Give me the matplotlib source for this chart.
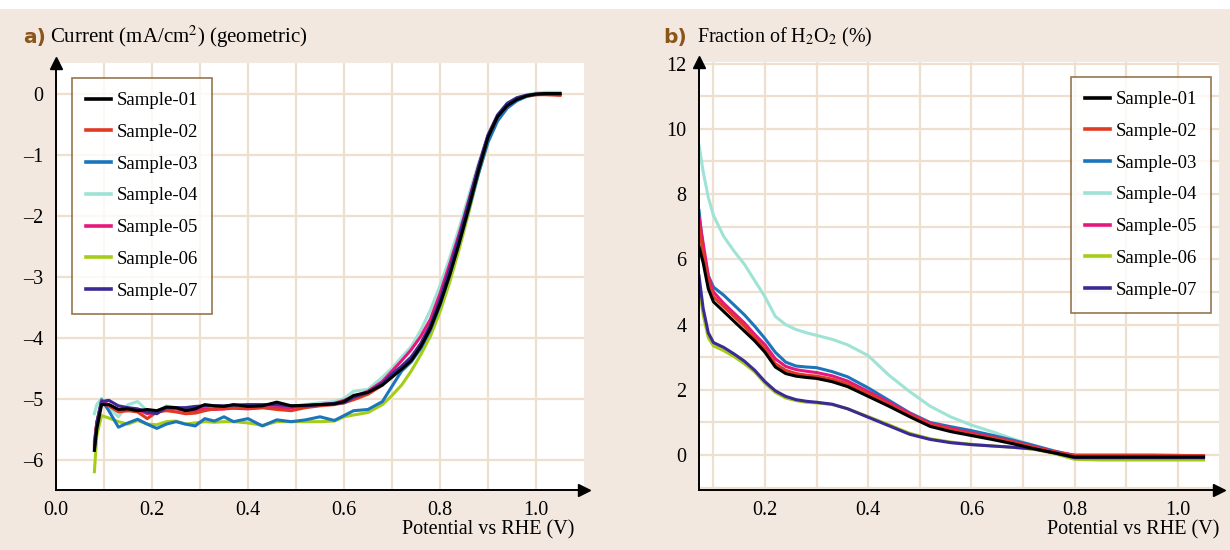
import matplotlib
matplotlib.use("Agg")
import matplotlib.pyplot as plt
from matplotlib.patches import Rectangle

plt.rcParams["font.family"] = ["Liberation Serif", "DejaVu Serif"]
plt.rcParams["mathtext.fontset"] = "stix"

samples = ["Sample-01", "Sample-02", "Sample-03", "Sample-04", "Sample-05", "Sample-06", "Sample-07"]
colors = ["#000000", "#E03A24", "#1B75BB", "#9FE3D6", "#E5197D", "#A5CD18", "#3B2A94"]

# panel a: current density vs potential
xa = [0.08, 0.085, 0.095, 0.11, 0.13, 0.15, 0.17, 0.19, 0.21, 0.23, 0.25, 0.27, 0.29, 0.31, 0.33, 0.35,
      0.37, 0.40, 0.43, 0.46, 0.49, 0.52, 0.55, 0.58, 0.60, 0.62, 0.65, 0.68, 0.70, 0.72, 0.74, 0.76,
      0.78, 0.80, 0.82, 0.84, 0.86, 0.88, 0.90, 0.92, 0.94, 0.96, 0.98, 1.00, 1.02, 1.05]
cur01 = [-5.85, -5.5, -5.1, -5.1, -5.18, -5.17, -5.2, -5.18, -5.2, -5.14, -5.15, -5.2, -5.17, -5.1, -5.12, -5.13,
         -5.1, -5.13, -5.12, -5.06, -5.12, -5.11, -5.1, -5.09, -5.05, -4.95, -4.9, -4.78, -4.65, -4.52, -4.38, -4.15,
         -3.85, -3.45, -2.98, -2.45, -1.87, -1.27, -0.72, -0.38, -0.2, -0.1, -0.04, -0.01, 0.0, 0.0]
cur02 = [-5.7, -5.4, -5.08, -5.12, -5.22, -5.2, -5.22, -5.33, -5.22, -5.2, -5.22, -5.25, -5.24, -5.2, -5.17, -5.17,
         -5.15, -5.16, -5.15, -5.18, -5.2, -5.15, -5.12, -5.1, -5.07, -5.02, -4.93, -4.78, -4.62, -4.48, -4.33, -4.1,
         -3.8, -3.38, -2.9, -2.38, -1.8, -1.22, -0.7, -0.37, -0.18, -0.08, -0.04, -0.02, -0.02, -0.03]
cur03 = [-5.85, -5.4, -5.02, -5.2, -5.47, -5.4, -5.34, -5.42, -5.49, -5.42, -5.38, -5.42, -5.45, -5.33, -5.37, -5.3,
         -5.38, -5.33, -5.45, -5.35, -5.38, -5.35, -5.3, -5.36, -5.28, -5.2, -5.18, -5.05, -4.8, -4.55, -4.4, -4.18,
         -3.88, -3.47, -2.98, -2.45, -1.9, -1.32, -0.8, -0.45, -0.24, -0.12, -0.05, -0.02, -0.01, -0.01]
cur04 = [-5.25, -5.1, -5.0, -5.15, -5.3, -5.1, -5.05, -5.2, -5.22, -5.12, -5.15, -5.18, -5.15, -5.12, -5.15, -5.13,
         -5.12, -5.1, -5.12, -5.12, -5.15, -5.1, -5.07, -5.05, -5.0, -4.88, -4.85, -4.65, -4.5, -4.32, -4.15, -3.88,
         -3.55, -3.15, -2.7, -2.2, -1.67, -1.15, -0.68, -0.36, -0.17, -0.07, -0.02, 0.01, 0.02, 0.02]
cur05 = [-5.75, -5.4, -5.05, -5.1, -5.18, -5.2, -5.18, -5.25, -5.22, -5.18, -5.17, -5.2, -5.2, -5.17, -5.18, -5.17,
         -5.16, -5.17, -5.15, -5.15, -5.15, -5.12, -5.1, -5.08, -5.03, -4.97, -4.88, -4.72, -4.55, -4.38, -4.2, -3.98,
         -3.7, -3.28, -2.8, -2.3, -1.75, -1.2, -0.7, -0.37, -0.18, -0.08, -0.03, -0.01, -0.01, -0.02]
cur06 = [-6.2, -5.6, -5.28, -5.32, -5.38, -5.42, -5.36, -5.42, -5.43, -5.38, -5.37, -5.42, -5.4, -5.38, -5.39, -5.38,
         -5.38, -5.4, -5.44, -5.38, -5.38, -5.38, -5.38, -5.37, -5.3, -5.27, -5.23, -5.1, -4.95, -4.78, -4.55, -4.28,
         -3.98, -3.58, -3.1, -2.55, -1.95, -1.32, -0.77, -0.42, -0.22, -0.11, -0.04, -0.01, 0.0, 0.0]
cur07 = [-5.8, -5.4, -5.05, -5.03, -5.12, -5.15, -5.17, -5.22, -5.25, -5.15, -5.15, -5.15, -5.13, -5.12, -5.12, -5.12,
         -5.11, -5.1, -5.1, -5.1, -5.12, -5.12, -5.1, -5.08, -5.07, -4.98, -4.9, -4.75, -4.6, -4.47, -4.32, -4.1,
         -3.8, -3.38, -2.88, -2.35, -1.78, -1.2, -0.68, -0.35, -0.16, -0.07, -0.03, -0.01, -0.01, -0.01]

# panel b: H2O2 fraction vs potential
xb = [0.072, 0.08, 0.09, 0.10, 0.12, 0.14, 0.16, 0.18, 0.20, 0.22, 0.24, 0.26, 0.28, 0.30, 0.33, 0.36,
      0.40, 0.44, 0.48, 0.52, 0.56, 0.60, 0.64, 0.68, 0.72, 0.76, 0.80, 0.85, 0.90, 0.95, 1.00, 1.05]
h01 = [6.4, 5.9, 5.1, 4.7, 4.4, 4.1, 3.8, 3.5, 3.15, 2.7, 2.5, 2.42, 2.38, 2.35, 2.25, 2.1,
       1.8, 1.5, 1.18, 0.88, 0.72, 0.6, 0.48, 0.35, 0.2, 0.07, -0.06, -0.06, -0.06, -0.06, -0.06, -0.06]
h02 = [7.0, 6.2, 5.3, 4.85, 4.55, 4.25, 3.95, 3.6, 3.25, 2.8, 2.6, 2.5, 2.45, 2.42, 2.33, 2.18,
       1.88, 1.56, 1.23, 0.93, 0.78, 0.65, 0.53, 0.4, 0.24, 0.1, -0.01, -0.01, -0.01, -0.01, -0.01, -0.02]
h03 = [7.5, 6.3, 5.5, 5.15, 4.9, 4.6, 4.3, 3.95, 3.57, 3.15, 2.85, 2.73, 2.7, 2.68, 2.56, 2.4,
       2.06, 1.68, 1.3, 1.0, 0.87, 0.75, 0.61, 0.46, 0.3, 0.13, -0.02, -0.02, -0.02, -0.02, -0.02, -0.02]
h04 = [9.5, 8.7, 7.9, 7.35, 6.7, 6.25, 5.85, 5.35, 4.85, 4.25, 4.0, 3.85, 3.75, 3.67, 3.55, 3.38,
       3.05, 2.45, 1.95, 1.5, 1.17, 0.92, 0.72, 0.5, 0.3, 0.1, -0.03, -0.03, -0.03, -0.03, -0.03, -0.03]
h05 = [7.3, 6.5, 5.5, 5.0, 4.65, 4.35, 4.05, 3.7, 3.38, 2.95, 2.72, 2.62, 2.57, 2.53, 2.43, 2.27,
       1.95, 1.62, 1.28, 0.97, 0.82, 0.68, 0.55, 0.42, 0.26, 0.11, 0.0, 0.0, 0.0, 0.0, -0.01, -0.03]
h06 = [5.2, 4.3, 3.6, 3.35, 3.2, 3.02, 2.8, 2.55, 2.2, 1.92, 1.75, 1.67, 1.62, 1.6, 1.55, 1.42,
       1.18, 0.93, 0.67, 0.5, 0.4, 0.33, 0.28, 0.24, 0.18, 0.05, -0.13, -0.15, -0.15, -0.15, -0.15, -0.15]
h07 = [5.5, 4.5, 3.75, 3.45, 3.3, 3.1, 2.88, 2.6, 2.25, 1.97, 1.8, 1.7, 1.65, 1.62, 1.56, 1.42,
       1.16, 0.9, 0.64, 0.48, 0.38, 0.32, 0.28, 0.24, 0.19, 0.07, -0.08, -0.08, -0.08, -0.08, -0.08, -0.08]

currents = [cur01, cur02, cur03, cur04, cur05, cur06, cur07]
fractions = [h01, h02, h03, h04, h05, h06, h07]

beige = "#F2E8DF"
gridc = "#EEDFCE"
brown = "#7A5424"

fig = plt.figure(figsize=(12.3, 5.5), dpi=100, facecolor="white")
fig.patches.append(Rectangle((0, 0), 1, 1 - 9 / 550, transform=fig.transFigure,
                             facecolor=beige, edgecolor="none", zorder=-10))

ax1 = fig.add_axes([56 / 1230, 60 / 550, 528 / 1230, 427 / 550])
ax2 = fig.add_axes([699 / 1230, 60 / 550, 520 / 1230, 428 / 550])

# draw order so that Sample-01 sits on top
order = [3, 5, 2, 4, 1, 6, 0]
for k, i in enumerate(order):
    ax1.plot(xa, currents[i], color=colors[i], lw=2.2, zorder=3 + k * 0.1)
    ax2.plot(xb, fractions[i], color=colors[i], lw=2.2, zorder=3 + k * 0.1)

ax1.set_xlim(0, 1.1)
ax1.set_ylim(-6.5, 0.5)
ax1.set_xticks([0.0, 0.2, 0.4, 0.6, 0.8, 1.0])
ax1.set_xticklabels(["0.0", "0.2", "0.4", "0.6", "0.8", "1.0"])
ax1.set_yticks([0, -1, -2, -3, -4, -5, -6])
ax1.set_yticklabels(["0", "\u20131", "\u20132", "\u20133", "\u20134", "\u20135", "\u20136"])
ax1.set_xticks([0.1, 0.3, 0.5, 0.7, 0.9], minor=True)

ax2.set_xlim(0.072, 1.08)
ax2.set_ylim(-1.07, 12.05)
ax2.set_xticks([0.2, 0.4, 0.6, 0.8, 1.0])
ax2.set_xticklabels(["0.2", "0.4", "0.6", "0.8", "1.0"])
ax2.set_yticks([0, 2, 4, 6, 8, 10, 12])
ax2.set_xticks([0.1, 0.3, 0.5, 0.7, 0.9], minor=True)
ax2.set_yticks([-1, 1, 3, 5, 7, 9, 11], minor=True)

for ax in (ax1, ax2):
    ax.set_facecolor("white")
    ax.grid(which="both", color=gridc, lw=1.6, zorder=0)
    ax.set_axisbelow(True)
    for s in ("top", "right"):
        ax.spines[s].set_visible(False)
    for s in ("left", "bottom"):
        ax.spines[s].set_linewidth(1.4)
        ax.spines[s].set_zorder(5)
    ax.tick_params(which="both", length=0, labelsize=14.5)
    ax.tick_params(axis="y", pad=9)
    ax.tick_params(axis="x", pad=8)
    ax.plot(1, 0, marker=">", color="black", ms=9, transform=ax.transAxes, clip_on=False, zorder=6)
    ax.plot(0, 1, marker="^", color="black", ms=9, transform=ax.transAxes, clip_on=False, zorder=6)

leg_kw = dict(fontsize=13.5, frameon=True, fancybox=False, handlelength=1.35, handletextpad=0.3,
              labelspacing=0.78, borderpad=0.75, borderaxespad=0)
handles = [plt.Line2D([], [], color=c, lw=2.6) for c in colors]
l1 = ax1.legend(handles, samples, loc="upper left", bbox_to_anchor=(0.03, 0.965), **leg_kw)
l2 = ax2.legend(handles, samples, loc="upper right", bbox_to_anchor=(0.985, 0.965), **leg_kw)
for lg in (l1, l2):
    lg.get_frame().set_edgecolor(brown)
    lg.get_frame().set_linewidth(1.2)
    lg.set_zorder(10)

# panel titles
fig.text(23 / 1230, 1 - 37 / 550, "a)", family="DejaVu Sans", weight="bold", color="#8A5518",
         fontsize=14.5, va="center", ha="left")
fig.text(50 / 1230, 1 - 37 / 550, "Current (mA/cm$^2$) (geometric)", fontsize=15, va="center", ha="left")
fig.text(663 / 1230, 1 - 37 / 550, "b)", family="DejaVu Sans", weight="bold", color="#8A5518",
         fontsize=14.5, va="center", ha="left")
fig.text(697 / 1230, 1 - 37 / 550, "Fraction of H$_2$O$_2$ (%)", fontsize=14.5, va="center", ha="left")

fig.text(574 / 1230, 1 - 530 / 550, "Potential vs RHE (V)", fontsize=14.5, va="center", ha="right")
fig.text(1219 / 1230, 1 - 530 / 550, "Potential vs RHE (V)", fontsize=14.5, va="center", ha="right")

fig.savefig("out.png", dpi=100, facecolor=fig.get_facecolor())
